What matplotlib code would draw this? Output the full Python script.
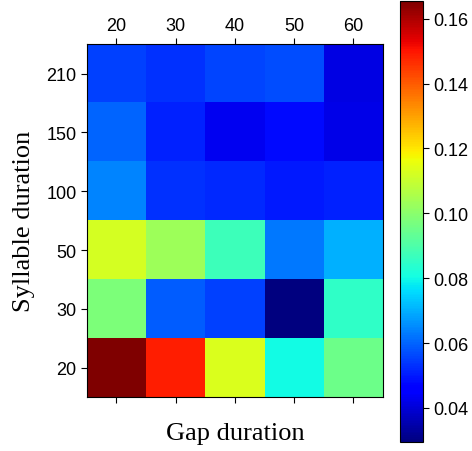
import numpy as np
import matplotlib
matplotlib.use("Agg")
import matplotlib.pyplot as plt

gap = [20, 30, 40, 50, 60]
syllable = [210, 150, 100, 50, 30, 20]   # top to bottom

# rows follow `syllable`, columns follow `gap`
values = np.array([
    [0.055, 0.053, 0.056, 0.057, 0.0415],
    [0.060, 0.051, 0.043, 0.048, 0.042],
    [0.0645, 0.053, 0.052, 0.050, 0.051],
    [0.112, 0.103, 0.087, 0.0625, 0.070],
    [0.0975, 0.059, 0.055, 0.0295, 0.085],
    [0.165, 0.149, 0.113, 0.080, 0.095],
])

fig = plt.figure(figsize=(4.72, 4.52), dpi=100)
ax = fig.add_axes([0.184, 0.119, 0.627, 0.781])
cax = fig.add_axes([0.847, 0.02, 0.049, 0.976])

im = ax.imshow(values, cmap="jet", aspect="auto", interpolation="nearest",
               vmin=0.0295, vmax=0.1655)

tick_font = "Liberation Sans"
ax.set_xticks(range(len(gap)))
ax.set_xticklabels(gap, family=tick_font)
ax.set_yticks(range(len(syllable)))
ax.set_yticklabels(syllable, family=tick_font)
ax.tick_params(axis="x", top=True, labeltop=True, bottom=True, labelbottom=False,
               labelsize=13, length=4, pad=3)
ax.tick_params(axis="y", left=True, right=False, labelsize=13, length=4)

ax.set_xlabel("Gap duration", family="Liberation Serif", fontsize=19, labelpad=14)
ax.set_ylabel("Syllable duration", family="Liberation Serif", fontsize=19, labelpad=8)

cb = fig.colorbar(im, cax=cax)
cb.set_ticks([0.04, 0.06, 0.08, 0.10, 0.12, 0.14, 0.16])
cb.ax.tick_params(labelsize=13, length=4)
for lab in cb.ax.get_yticklabels():
    lab.set_family(tick_font)

fig.savefig("out.png", dpi=100)
